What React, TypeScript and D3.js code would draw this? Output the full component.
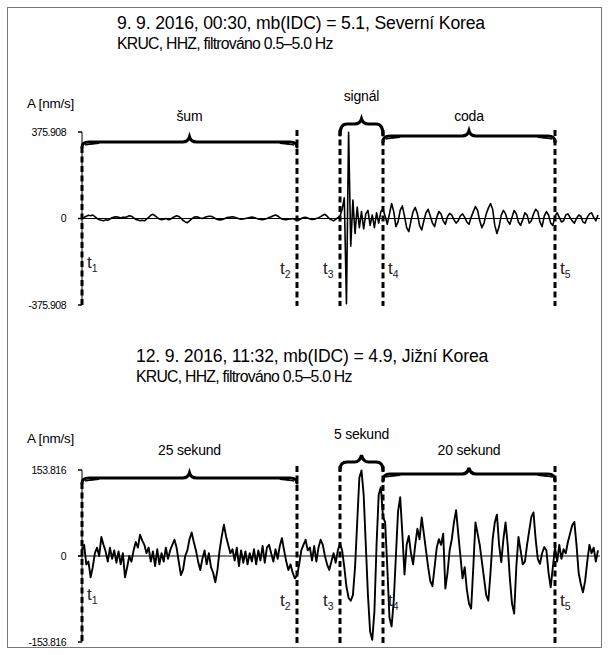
import * as d3 from 'd3';

// seismogram samples every 0.25 s, 0..60 s (nm/s)
const step = 0.25;

const seriesNK = [
  0, 5, 10, 14, 12, 15, 8, 0, -5, -8, -10, -6, -8, -2, 3, 6, 8, 5, 2, 6,
  4, 8, 12, 10, 3, -4, -6, -10, -8, -10, -3, 5, 14, 18, 12, 4, -2, -5, -3, 0,
  -5, -4, 2, 8, 12, 9, 2, -8, -15, -18, -10, -2, 5, 8, 6, 2, 0, 4, 8, 10,
  10, 6, 0, -4, -6, -5, -2, 2, 5, 6, 8, 5, 2, -1, -3, -2, 0, 2, 4, 6,
  4, 1, -2, -4, -5, -3, 0, 4, 8, 12, 15, 11, 4, -2, -4, -5, -3, -2, 0, -4,
  -8, -6, 0, 4, 5, 2, -2, -4, -3, 0, 3, 8, 14, 18, 10, 0, -6, -10, -4, 4,
  10, 40, 90, -370, 375, -120, 80, -65, 50, -40, 30, -45, 20, 35, -30, 15, -40, 25, -20, 30,
  40, 10, -25, 20, 65, 30, -35, -15, 35, 55, 10, -40, -57, -10, 30, 48, 20, -30, -50, -10,
  25, 40, 10, -20, -35, 5, 30, 20, -10, -25, 8, 22, 15, -5, -20, -10, 12, 20, 5, -15,
  -25, 5, 30, 52, 35, -10, -40, -20, 20, 45, 65, 40, -30, -65, -35, 15, 35, 20, -10, -25,
  5, 35, 20, -15, -30, -5, 25, 15, -20, -10, 20, 40, 30, -15, -35, 10, 30, 15, -20, -30,
  10, 25, 5, -15, -10, 15, 20, 5, -10, -20, 0, 15, 10, -15, -20, 5, 20, 25, 5, -10,
  15,
];

const seriesSK = [
  10, 20, -15, -10, -38, -20, 5, 15, 0, 34, 20, 8, -10, 15, -5, 10, -12, 8, -15, 5,
  -38, -20, 0, -10, 10, 25, 15, 38, 28, 20, 5, 15, -10, 8, -18, 12, -15, 5, -10, 15,
  -5, 10, 20, 29, 15, -10, -34, -25, 0, 10, 30, 42, 25, 10, -10, -25, -5, 10, -15, 5,
  -20, -30, -47, -25, 10, 35, 56, 35, 20, 5, 12, -8, 15, -18, 10, -12, 8, -15, 5, -10,
  12, -15, 10, -8, 18, -12, 15, 20, 5, -10, 12, -5, 18, 32, 10, -10, -25, -15, -30, -40,
  -35, -15, 10, 20, 29, 10, 15, -8, 18, -10, 15, 29, 20, 0, -15, -25, -10, 5, -12, 10,
  22, 10, -20, -55, -75, -80, -70, -20, 60, 140, 153, 110, 20, -70, -135, -150, -100, 20, 110, 123,
  70, 60, -20, -110, -126, -80, 0, 80, 105, 40, -33, 20, 36, 5, -15, 20, 49, 30, 69, 40,
  10, -20, -45, -54, -20, 15, 30, 20, 40, -58, -30, 10, 30, 60, 82, 40, 0, -40, -20, -60,
  -85, -94, -20, 60, 40, 20, -10, -40, -70, -80, -30, 30, 60, 74, 20, -11, 30, 60, 20, -40,
  -85, -103, -20, 34, 10, -15, -10, 20, 45, 70, 78, 30, -5, -14, 5, 16, 10, -30, -56, -20,
  15, -10, 20, -5, 12, 5, 25, 40, 55, 61, 20, -30, -50, -65, -45, -10, 20, 5, 15, -10,
  10,
];

const markTimes = [0, 25, 30, 35, 55];
const markNames = ['1', '2', '3', '4', '5'];

const spansNK = [[0, 25], [30, 35], [35, 55]];
const labelsNK = ['šum', 'signál', 'coda'];
const spansSK = [[0, 25], [30, 35], [35, 55]];
const labelsSK = ['25 sekund', '5 sekund', '20 sekund'];

const panels = [
  {
    title: '9. 9. 2016, 00:30, mb(IDC) = 5.1, Severní Korea',
    sub: 'KRUC, HHZ, filtrováno 0.5–5.0 Hz',
    titleY: 29,
    titleX: 117,
    max: 375.908,
    yTop: 132,
    yBot: 305,
    unitY: 108,
    series: seriesNK,
    spans: spansNK,
    labels: labelsNK,
    traceW: 1.6,
    // brace geometry: [end y, line y, tip y, label baseline]
    braces: [[147, 142, 137, 121], [135, 124, 119, 101], [142, 136, 131, 121]],
    dashTop: 130,
    tLabelY: [268, 274, 274, 274, 274],
  },
  {
    title: '12. 9. 2016, 11:32, mb(IDC) = 4.9, Jižní Korea',
    sub: 'KRUC, HHZ, filtrováno 0.5–5.0 Hz',
    titleY: 362,
    titleX: 136,
    max: 153.816,
    yTop: 470,
    yBot: 642,
    unitY: 443,
    series: seriesSK,
    spans: spansSK,
    labels: labelsSK,
    traceW: 1.9,
    braces: [[483, 478, 473, 455], [470, 462, 455, 439], [481, 474, 468, 455]],
    dashTop: 466,
    tLabelY: [600, 606, 606, 606, 606],
  },
];

const x = d3.scaleLinear().domain([0, 60]).range([82, 598]);

function bracePath(x1: number, x2: number, yEnd: number, yLine: number, yTip: number) {
  const xm = (x1 + x2) / 2;
  const r = Math.min(7, (x2 - x1) / 6);
  const p = d3.path();
  p.moveTo(x1, yEnd);
  p.quadraticCurveTo(x1, yLine, x1 + r, yLine);
  p.lineTo(xm - r, yLine);
  p.quadraticCurveTo(xm - 1.5, yLine, xm, yTip);
  p.quadraticCurveTo(xm + 1.5, yLine, xm + r, yLine);
  p.lineTo(x2 - r, yLine);
  p.quadraticCurveTo(x2, yLine, x2, yEnd);
  return p.toString();
}

// little wedge that thickens the brace ends like the drawing tool does
function braceEnd(xe: number, yLine: number, dir: number) {
  const p = d3.path();
  p.moveTo(xe, yLine + 3);
  p.lineTo(xe + dir * 14, yLine - 0.5);
  p.lineTo(xe + dir * 14, yLine + 1.5);
  p.closePath();
  return p.toString();
}

function Panel({ cfg }: { cfg: (typeof panels)[number] }) {
  const y = d3.scaleLinear().domain([-cfg.max, cfg.max]).range([cfg.yBot, cfg.yTop]);
  const line = d3
    .line<number>()
    .x((_, i) => x(i * step))
    .y(d => y(d));
  const ticks = [cfg.max, 0, -cfg.max];
  const fmt = (v: number) => (v === 0 ? '0' : v.toFixed(3));
  return (
    <g>
      <text x={cfg.titleX} y={cfg.titleY} fontSize={17.6} letterSpacing={-0.15}>{cfg.title}</text>
      <text x={cfg.titleX} y={cfg.titleY + 20} fontSize={15.8} letterSpacing={-0.75}>{cfg.sub}</text>
      <text x={27} y={cfg.unitY} fontSize={13.5} letterSpacing={-0.2}>A [nm/s]</text>

      {/* y axis */}
      <line x1={x(0)} x2={x(0)} y1={y(cfg.max)} y2={y(-cfg.max)} stroke="#000" />
      {ticks.map(t => (
        <g key={t}>
          <line x1={x(0) - 4} x2={x(0)} y1={y(t)} y2={y(t)} stroke="#000" strokeWidth={1.5} />
          <text x={66} y={y(t)} dy="0.35em" fontSize={10.5} textAnchor="end" letterSpacing={-0.5}>
            {fmt(t)}
          </text>
        </g>
      ))}
      <line x1={x(0) - 4} x2={600} y1={y(0)} y2={y(0)} stroke="#000" strokeWidth={1} />

      {/* time marks */}
      {markTimes.map((t, i) => (
        <g key={t}>
          <line
            x1={x(t)}
            x2={x(t)}
            y1={i === 0 ? cfg.braces[0][0] : cfg.dashTop}
            y2={y(-cfg.max) + 1}
            stroke="#000"
            strokeWidth={3}
            strokeDasharray="6,3.5"
          />
          <text
            x={i === 0 || i >= 3 ? x(t) + 5 : x(t) - 17}
            y={cfg.tLabelY[i]}
            fontSize={17}
            fill="#222"
          >
            t<tspan fontSize={10.5} dy={4}>{markNames[i]}</tspan>
          </text>
        </g>
      ))}

      {/* trace */}
      <path
        d={line(cfg.series) ?? ''}
        fill="none"
        stroke="#000"
        strokeWidth={cfg.traceW}
        strokeLinejoin="round"
      />

      {/* braces */}
      {cfg.spans.map((s, i) => {
        const [yEnd, yLine, yTip, ly] = cfg.braces[i];
        const wide = x(s[1]) - x(s[0]) > 80;
        return (
          <g key={i}>
            <path
              d={bracePath(x(s[0]), x(s[1]), yEnd, yLine, yTip)}
              fill="none"
              stroke="#000"
              strokeWidth={3.2}
              strokeLinecap="round"
            />
            {wide && (
              <>
                <path d={braceEnd(x(s[0]) + 3, yLine, 1)} fill="#000" stroke="#000" />
                <path d={braceEnd(x(s[1]) - 3, yLine, -1)} fill="#000" stroke="#000" />
              </>
            )}
            <text x={(x(s[0]) + x(s[1])) / 2} y={ly} fontSize={14} textAnchor="middle" letterSpacing={-0.2}>
              {cfg.labels[i]}
            </text>
          </g>
        );
      })}
    </g>
  );
}

export default function App() {
  return (
    <svg
      width={608}
      height={655}
      style={{ position: 'absolute', left: 0, top: 0, background: '#fff' }}
      fontFamily="'Liberation Sans', Arial, sans-serif"
    >
      <rect x={7.5} y={7.5} width={594} height={640} fill="#fff" stroke="#777" />
      {panels.map((p, i) => (
        <Panel key={i} cfg={p} />
      ))}
    </svg>
  );
}
